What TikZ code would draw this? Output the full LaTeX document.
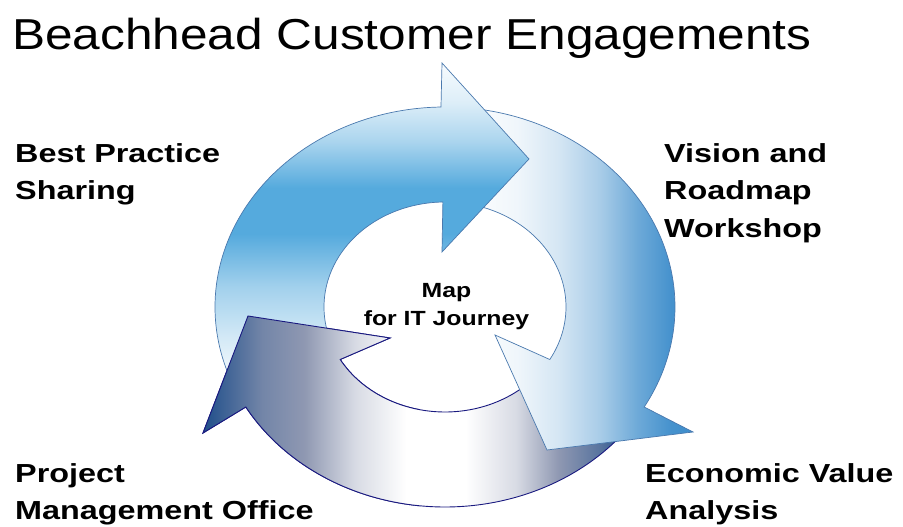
\documentclass[tikz,border=0pt]{standalone}
\usepackage{fontspec}
\setmainfont{Liberation Sans}
\newfontfamily\titlefont[FakeStretch=1.145]{Liberation Sans}
\newfontfamily\labelfont[FakeStretch=1.24]{Liberation Sans}
\newfontfamily\mapfont[FakeStretch=1.21]{Liberation Sans}
\usetikzlibrary{calc}

\definecolor{ringblue}{HTML}{55AADD}
\definecolor{rightblue}{HTML}{3D8DCB}
\definecolor{bnavy}{HTML}{1F4E8A}
\definecolor{bgray}{HTML}{8F98B2}
\definecolor{edgeblue}{HTML}{4A79AE}
\definecolor{edgenavy}{HTML}{1A1A80}

\pgfdeclareverticalshading{topband}{100bp}{%
  color(0bp)=(white); color(25bp)=(white);
  color(33bp)=(ringblue!25!white); color(41bp)=(ringblue!55!white);
  color(49bp)=(ringblue); color(56bp)=(ringblue);
  color(63bp)=(ringblue!50!white); color(69bp)=(ringblue!20!white);
  color(75bp)=(ringblue!5!white); color(100bp)=(ringblue!5!white)}
\pgfdeclarehorizontalshading{rightband}{100bp}{%
  color(0bp)=(white); color(25bp)=(white);
  color(37bp)=(rightblue!8!white); color(46bp)=(rightblue!22!white);
  color(55bp)=(rightblue!45!white); color(63bp)=(rightblue!75!white);
  color(70bp)=(rightblue!95!white); color(75bp)=(rightblue); color(100bp)=(rightblue)}
\pgfdeclarehorizontalshading{bottomband}{100bp}{%
  color(0bp)=(bnavy); color(25bp)=(bnavy);
  color(32bp)=(bgray!75!bnavy); color(37bp)=(bgray);
  color(43bp)=(bgray!35!white); color(49bp)=(white); color(56bp)=(white);
  color(62bp)=(bgray!35!white); color(67bp)=(bgray);
  color(72bp)=(bgray!50!bnavy); color(75bp)=(bnavy); color(100bp)=(bnavy)}

\begin{document}
\begin{tikzpicture}[x=1pt,y=1pt]
  \def\ra{230} \def\rb{200}
  \def\ia{121} \def\ib{105}

\tikzstyle{band}=[line width=0.7pt,draw=edgeblue]
\tikzstyle{cornertext}=[inner sep=0pt,anchor=base west,align=left,font=\labelfont\bfseries\fontsize{26.1}{37.5}\selectfont]
\tikzstyle{maptext}=[inner sep=0pt,anchor=base,align=center,font=\mapfont\bfseries\fontsize{20.5}{28.4}\selectfont]

\useasboundingbox (0,0) rectangle (903,527);
\coordinate (C) at (445,220);

\def\bottomarrow{\shadedraw[band,draw=edgenavy,line width=0.9pt,shading=bottomband]
  ($(C)+(-38:{\ra} and {\rb})$) arc[start angle=-38,end angle=-150,x radius=\ra,y radius=\rb]
  -- (203,94) -- (248,211) -- (390,189)
  -- ($(C)+(-150:{\ia} and {\ib})$) arc[start angle=-150,end angle=-38,x radius=\ia,y radius=\ib] -- cycle;}

\bottomarrow
\shadedraw[band,shading=rightband]
  ($(C)+(82:{\ra} and {\rb})$) arc[start angle=82,end angle=-30,x radius=\ra,y radius=\rb]
  -- (693,95) -- (547,77) -- (495,192)
  -- ($(C)+(-30:{\ia} and {\ib})$) arc[start angle=-30,end angle=82,x radius=\ia,y radius=\ib] -- cycle;
\shadedraw[band,shading=topband]
  ($(C)+(205:{\ra} and {\rb})$) arc[start angle=205,end angle=91,x radius=\ra,y radius=\rb]
  -- (442,464) -- (529,368) -- (442,275)
  -- ($(C)+(91:{\ia} and {\ib})$) arc[start angle=91,end angle=205,x radius=\ia,y radius=\ib] -- cycle;
\begin{scope}
  \clip (150,0) rectangle (420,527);
  \bottomarrow
\end{scope}

\node[inner sep=0pt,anchor=base west,font=\titlefont\fontsize{43.3}{50}\selectfont] (title) at (12,477.7) {Beachhead Customer Engagements};
\node[cornertext] (best) at (15,327) {Best Practice\\Sharing};
\node[cornertext] (vision) at (664,289.5) {Vision and\\Roadmap\\Workshop};
\node[cornertext] (pmo) at (15,7) {Project\\Management Office};
\node[cornertext] (eva) at (645,7) {Economic Value\\Analysis};
\node[maptext] (map) at (446.5,201.3) {Map\\for IT Journey};
\end{tikzpicture}
\end{document}
